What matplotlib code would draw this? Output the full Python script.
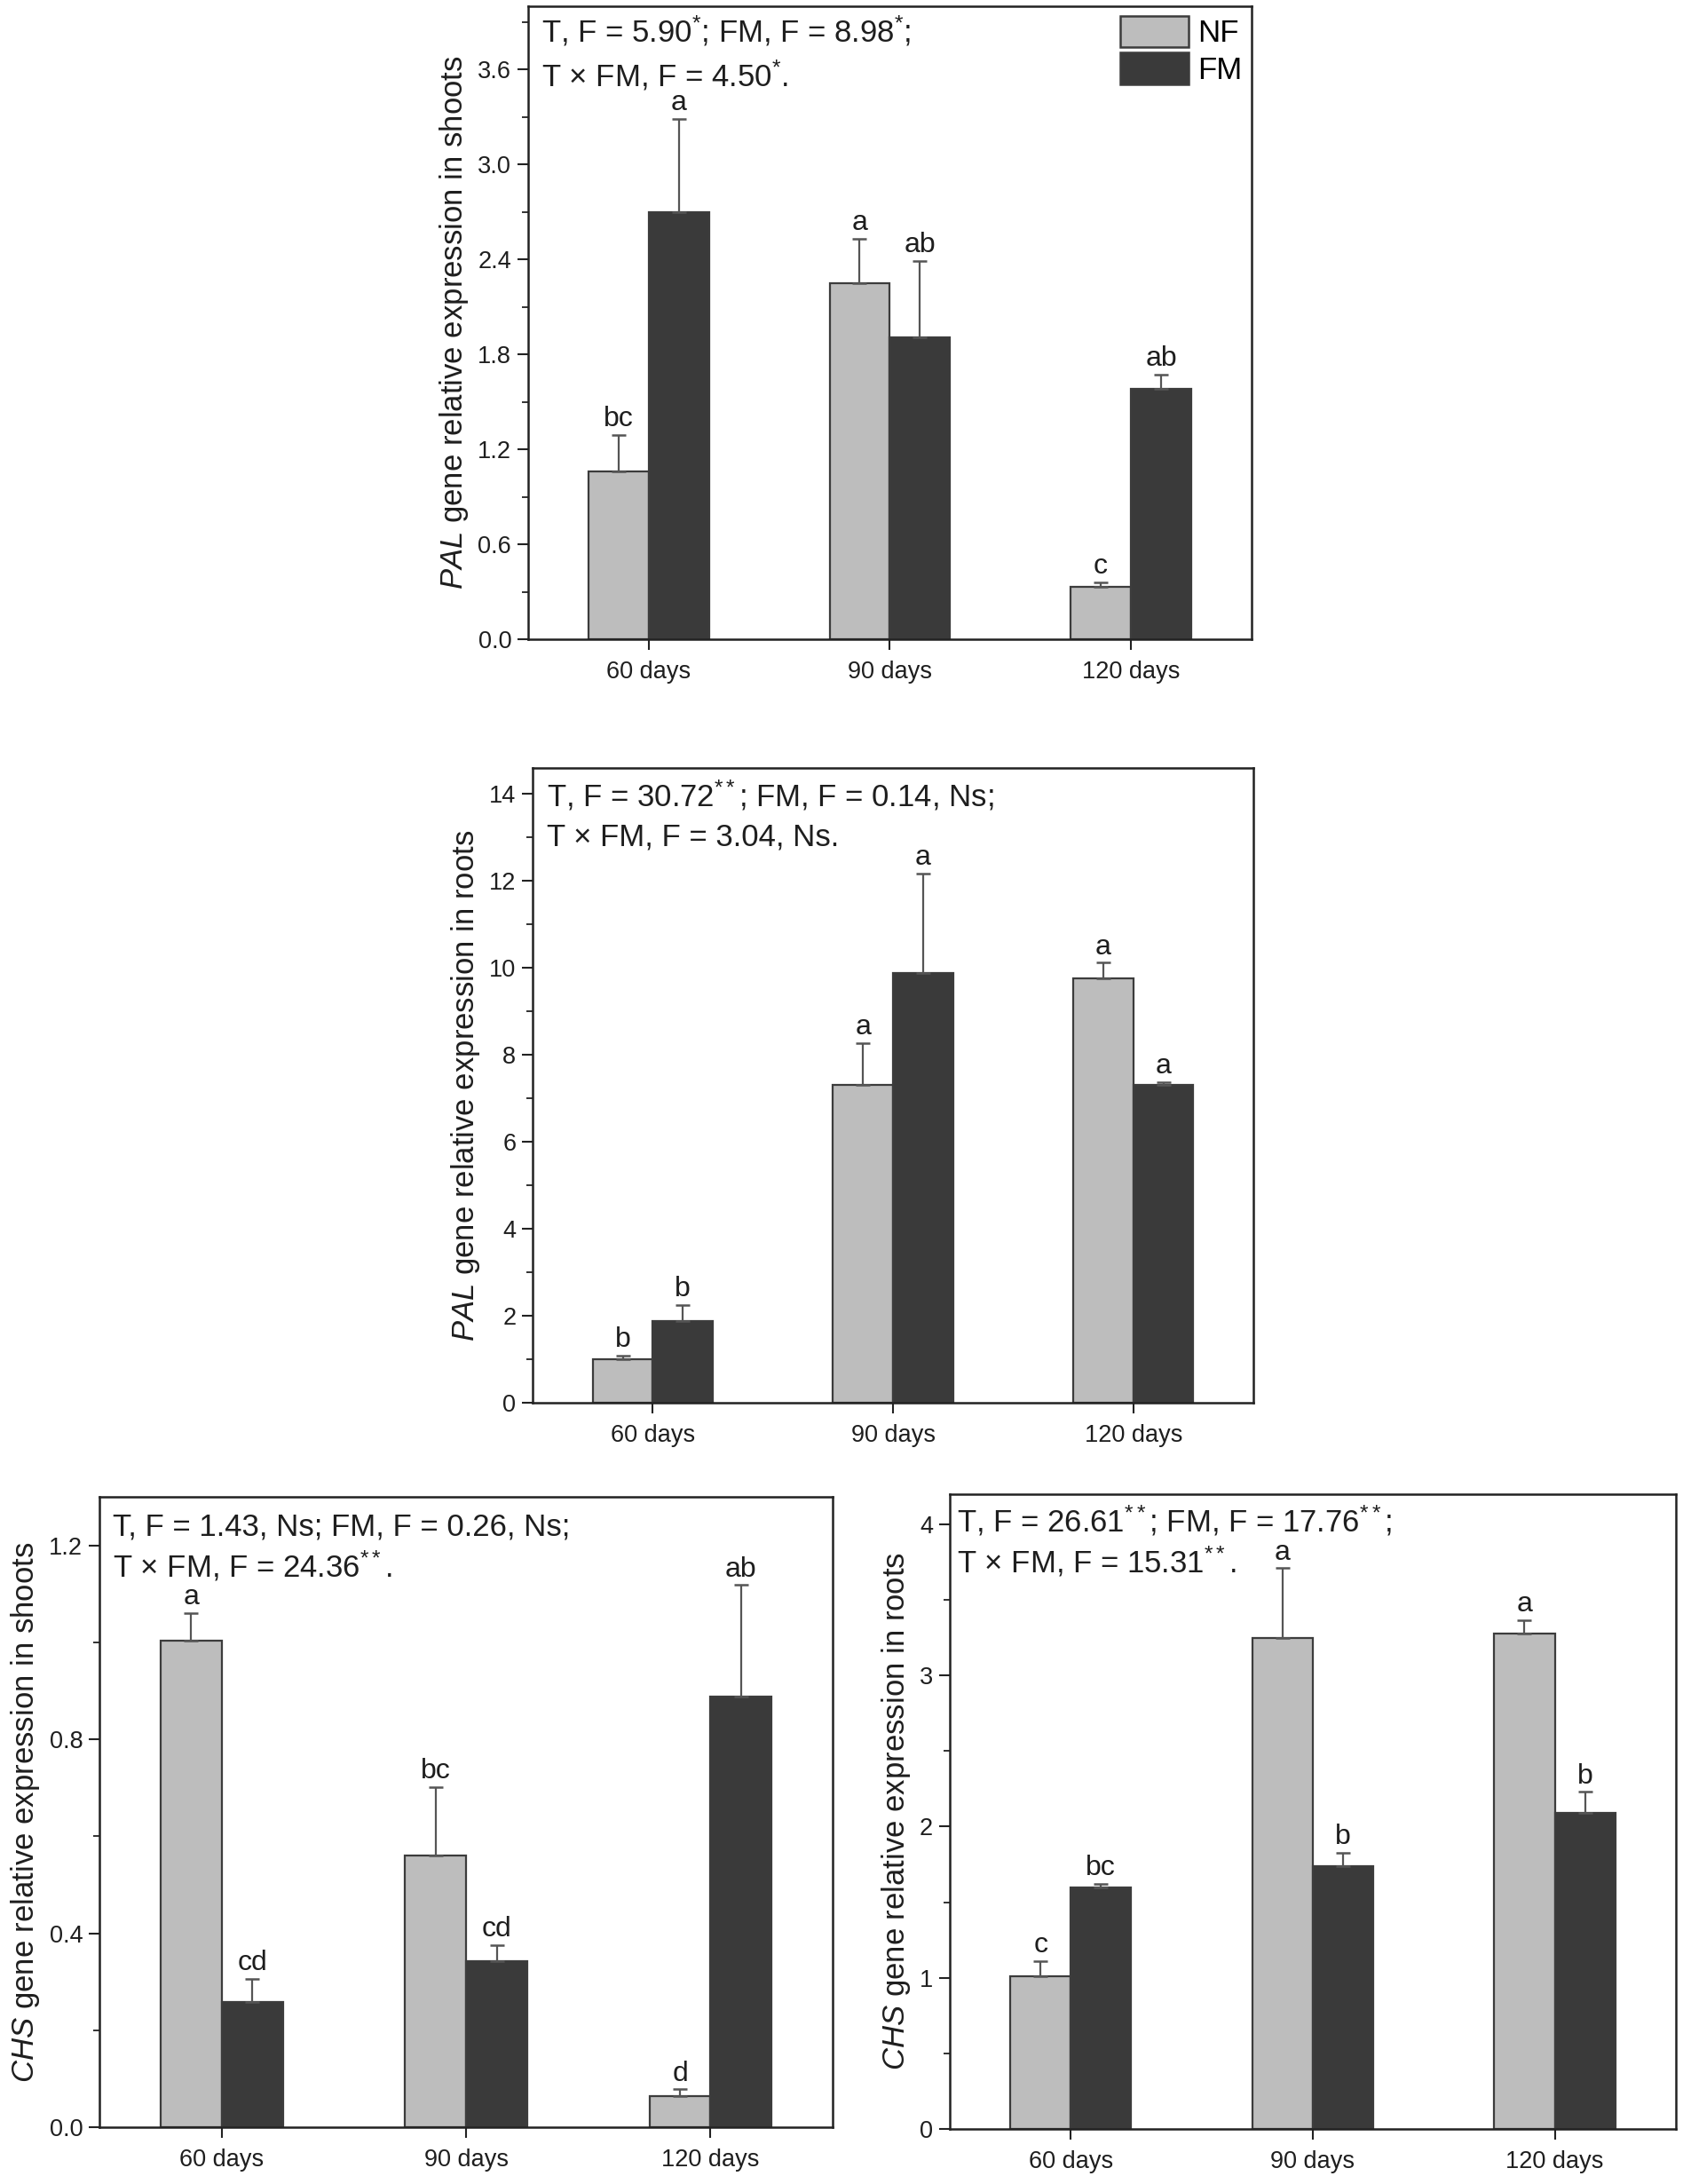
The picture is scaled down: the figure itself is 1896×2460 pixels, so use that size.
import matplotlib
matplotlib.use("Agg")
import matplotlib.pyplot as plt
from matplotlib.patches import Patch
from matplotlib.ticker import MultipleLocator, FormatStrFormatter
import numpy as np

plt.rcParams['font.family'] = ['Liberation Sans', 'DejaVu Sans']
plt.rcParams['mathtext.fontset'] = 'custom'
plt.rcParams['mathtext.rm'] = 'Liberation Sans'
plt.rcParams['mathtext.it'] = 'Liberation Sans:italic'
plt.rcParams['mathtext.bf'] = 'Liberation Sans:bold'

categories = ["60 days", "90 days", "120 days"]
series = ["NF", "FM"]

# Panel 1: PAL shoots
pal_shoot_nf = [1.06, 2.25, 0.33]
pal_shoot_nf_se = [0.23, 0.28, 0.03]
pal_shoot_fm = [2.70, 1.91, 1.58]
pal_shoot_fm_se = [0.59, 0.48, 0.095]
pal_shoot_nf_letters = ["bc", "a", "c"]
pal_shoot_fm_letters = ["a", "ab", "ab"]
pal_shoot_stats = ["T, F = 5.90$^{*}$; FM, F = 8.98$^{*}$;", "T × FM, F = 4.50$^{*}$."]

# Panel 2: PAL roots
pal_root_nf = [1.00, 7.30, 9.77]
pal_root_nf_se = [0.09, 0.97, 0.35]
pal_root_fm = [1.87, 9.88, 7.30]
pal_root_fm_se = [0.38, 2.29, 0.07]
pal_root_nf_letters = ["b", "a", "a"]
pal_root_fm_letters = ["b", "a", "a"]
pal_root_stats = ["T, F = 30.72$^{**}$; FM, F = 0.14, Ns;", "T × FM, F = 3.04, Ns."]

# Panel 3: CHS shoots
chs_shoot_nf = [1.004, 0.561, 0.065]
chs_shoot_nf_se = [0.056, 0.14, 0.013]
chs_shoot_fm = [0.258, 0.342, 0.889]
chs_shoot_fm_se = [0.048, 0.034, 0.229]
chs_shoot_nf_letters = ["a", "bc", "d"]
chs_shoot_fm_letters = ["cd", "cd", "ab"]
chs_shoot_stats = ["T, F = 1.43, Ns; FM, F = 0.26, Ns;", "T × FM, F = 24.36$^{**}$."]

# Panel 4: CHS roots
chs_root_nf = [1.01, 3.25, 3.28]
chs_root_nf_se = [0.10, 0.46, 0.085]
chs_root_fm = [1.60, 1.74, 2.09]
chs_root_fm_se = [0.02, 0.085, 0.14]
chs_root_nf_letters = ["c", "a", "a"]
chs_root_fm_letters = ["bc", "b", "b"]
chs_root_stats = ["T, F = 26.61$^{**}$; FM, F = 17.76$^{**}$;", "T × FM, F = 15.31$^{**}$."]

NF_COLOR = "#bdbdbd"
FM_COLOR = "#3a3a3a"
EDGE = "#3c3c3c"
TXT = "#1e1e1e"

fig = plt.figure(figsize=(18.96, 24.60), dpi=100)


def panel(rect, nf, nf_se, fm, fm_se, nf_let, fm_let, stats, gene, tissue,
          ymax, major, minor, fmt, legend=False, stat_x=0.018, stat_y=(0.941, 0.872)):
    ax = fig.add_axes(rect)
    x = np.arange(1, len(categories) + 1)
    w = 0.25
    ax.bar(x - w / 2, nf, width=w, color=NF_COLOR, edgecolor=EDGE, linewidth=1.6, zorder=2)
    ax.bar(x + w / 2, fm, width=w, color=FM_COLOR, edgecolor=EDGE, linewidth=1.6, zorder=2)
    for xs, vals, se in ((x - w / 2, nf, nf_se), (x + w / 2, fm, fm_se)):
        ax.errorbar(xs, vals, yerr=[np.zeros(len(vals)), se], fmt="none",
                    ecolor="#555555", elinewidth=1.6, capsize=6, capthick=1.8, zorder=3)
    for xs, vals, se, lets in ((x - w / 2, nf, nf_se, nf_let), (x + w / 2, fm, fm_se, fm_let)):
        for xi, v, s, l in zip(xs, vals, se, lets):
            ax.annotate(l, (xi, v + s), xytext=(0, 2), textcoords="offset points",
                        ha="center", va="bottom", fontsize=23, color=TXT)
    ax.set_xlim(0.5, 3.5)
    ax.set_ylim(0, ymax)
    ax.set_xticks(x)
    ax.set_xticklabels(categories)
    ax.yaxis.set_major_locator(MultipleLocator(major))
    ax.yaxis.set_minor_locator(MultipleLocator(minor))
    ax.yaxis.set_major_formatter(FormatStrFormatter(fmt))
    ax.tick_params(axis="both", which="major", direction="out", length=8.5, width=1.5,
                   labelsize=19.5, colors="#222222", labelcolor=TXT)
    ax.tick_params(axis="y", which="minor", direction="out", length=5, width=1.3, colors="#222222")
    ax.tick_params(axis="x", which="major", pad=9)
    ax.tick_params(axis="y", which="major", pad=5)
    for sp in ax.spines.values():
        sp.set_linewidth(1.8)
        sp.set_color("#222222")
    ax.set_ylabel(r"$\mathit{" + gene + "}$ gene relative expression in " + tissue,
                  fontsize=25, color=TXT, labelpad=6)
    ax.text(stat_x, stat_y[0], stats[0], transform=ax.transAxes, fontsize=25,
            ha="left", va="baseline", color=TXT)
    ax.text(stat_x, stat_y[1], stats[1], transform=ax.transAxes, fontsize=25,
            ha="left", va="baseline", color=TXT)
    if legend:
        handles = [Patch(facecolor=NF_COLOR, edgecolor=EDGE, linewidth=1.8),
                   Patch(facecolor=FM_COLOR, edgecolor=EDGE, linewidth=1.8)]
        ax.legend(handles, series, loc="upper right", frameon=False, fontsize=25,
                  handlelength=2.2, handleheight=1.2, labelspacing=0.15,
                  handletextpad=0.3, borderaxespad=0.2, borderpad=0.1)
    return ax


panel([0.3138, 0.7073, 0.4298, 0.2898], pal_shoot_nf, pal_shoot_nf_se, pal_shoot_fm,
      pal_shoot_fm_se, pal_shoot_nf_letters, pal_shoot_fm_letters, pal_shoot_stats,
      "PAL", "shoots", 4.0, 0.6, 0.3, "%.1f", legend=True, stat_x=0.018, stat_y=(0.944, 0.874))
panel([0.3165, 0.3577, 0.4283, 0.2907], pal_root_nf, pal_root_nf_se, pal_root_fm,
      pal_root_fm_se, pal_root_nf_letters, pal_root_fm_letters, pal_root_stats,
      "PAL", "roots", 14.6, 2, 1, "%d", stat_x=0.019, stat_y=(0.940, 0.878))
panel([0.0591, 0.026, 0.4357, 0.2886], chs_shoot_nf, chs_shoot_nf_se, chs_shoot_fm,
      chs_shoot_fm_se, chs_shoot_nf_letters, chs_shoot_fm_letters, chs_shoot_stats,
      "CHS", "shoots", 1.3, 0.4, 0.2, "%.1f", stat_x=0.018, stat_y=(0.939, 0.873))
panel([0.5643, 0.0252, 0.4314, 0.2907], chs_root_nf, chs_root_nf_se, chs_root_fm,
      chs_root_fm_se, chs_root_nf_letters, chs_root_fm_letters, chs_root_stats,
      "CHS", "roots", 4.2, 1, 0.5, "%d", stat_x=0.01, stat_y=(0.940, 0.876))

fig.savefig("out.png", dpi=100)
